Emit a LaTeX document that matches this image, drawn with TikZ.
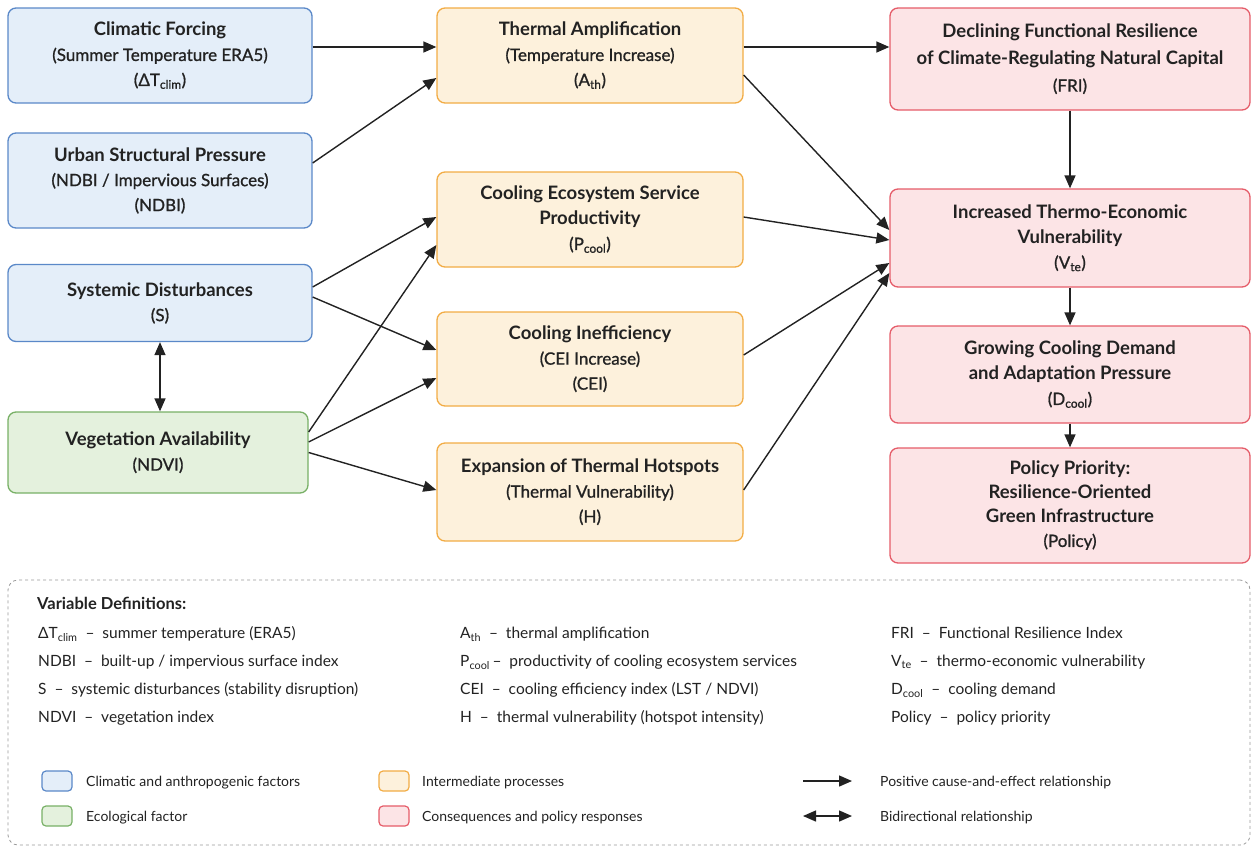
\documentclass[tikz,border=0pt]{standalone}
\usepackage{fontspec}
\setmainfont{Lato}
\newfontfamily\medfont{Lato}[FakeBold=1]
\usetikzlibrary{arrows.meta}
\definecolor{txt}{HTML}{222222}
\definecolor{bluefill}{HTML}{E4EEF9}
\definecolor{blueline}{HTML}{5A88C8}
\definecolor{orgfill}{HTML}{FDF1DC}
\definecolor{orgline}{HTML}{F2AC45}
\definecolor{redfill}{HTML}{FCE4E6}
\definecolor{redline}{HTML}{E55C69}
\definecolor{grnfill}{HTML}{E4F1DD}
\definecolor{grnline}{HTML}{78B066}
\newcommand{\ttl}[1]{{\rmfamily\bfseries\fontsize{18.5}{25}\selectfont #1}}
\newcommand{\defn}[4]{
\node[deftxt] (#1) at (#2,#3) {#4};}
\newcommand{\swatch}[5]{
\node[swbox,draw=#4,fill=#5] (#1) at (#2,#3) {};}

\begin{document}
\begin{tikzpicture}[x=1pt,y=-1pt,
  box/.style={draw, rounded corners=8pt, line width=1.3pt, align=center,
    inner sep=0pt, text=txt, font=\medfont\fontsize{17}{25}\selectfont},
  factor/.style={box, draw=blueline, fill=bluefill},
  ecol/.style={box, draw=grnline, fill=grnfill},
  proc/.style={box, draw=orgline, fill=orgfill},
  outc/.style={box, draw=redline, fill=redfill},
  arr/.style={-{Triangle[length=13pt,width=11pt]}, line width=1.4pt, txt},
  biarr/.style={{Triangle[length=13pt,width=11pt]}-{Triangle[length=13pt,width=11pt]}, line width=1.4pt, txt},
  deftxt/.style={anchor=base west, inner sep=0pt, text=txt, font=\fontsize{15.5}{18}\selectfont},
  legtxt/.style={deftxt, font=\fontsize{14}{16}\selectfont},
  swbox/.style={draw, rounded corners=4pt, line width=1.2pt, minimum width=30pt, minimum height=20pt, inner sep=0pt}]
\useasboundingbox (0,0) rectangle (1253,847);

% left column
\node[factor, minimum width=304pt, minimum height=95pt] (clim) at (160,55.5)
  {\ttl{Climatic Forcing}\\(Summer Temperature ERA5)\\(ΔT\textsubscript{clim})};
\node[factor, minimum width=304pt, minimum height=95pt] (urban) at (160,180.5)
  {\ttl{Urban Structural Pressure}\\(NDBI / Impervious Surfaces)\\(NDBI)};
\node[factor, minimum width=304pt, minimum height=77pt] (sys) at (160,303)
  {\ttl{Systemic Disturbances}\\(S)};
\node[ecol, minimum width=300pt, minimum height=81pt] (veg) at (158,452.5)
  {\ttl{Vegetation Availability}\\(NDVI)};

% middle column
\node[proc, minimum width=306pt, minimum height=95pt] (therm) at (590,55.5)
  {\ttl{Thermal Amplification}\\(Temperature Increase)\\(A\textsubscript{th})};
\node[proc, minimum width=306pt, minimum height=95pt] (pcool) at (590,219.5)
  {\ttl{Cooling Ecosystem Service}\\\ttl{Productivity}\\(P\textsubscript{cool})};
\node[proc, minimum width=306pt, minimum height=94pt] (cei) at (590,359)
  {\ttl{Cooling Inefficiency}\\(CEI Increase)\\(CEI)};
\node[proc, minimum width=306pt, minimum height=98pt] (hot) at (590,492)
  {\ttl{Expansion of Thermal Hotspots}\\(Thermal Vulnerability)\\(H)};

% right column
\node[outc, minimum width=360pt, minimum height=102pt, font=\medfont\fontsize{17}{27}\selectfont] (fri) at (1070,59)
  {\ttl{Declining Functional Resilience}\\\ttl{of Climate-Regulating Natural Capital}\\(FRI)};
\node[outc, minimum width=360pt, minimum height=98pt] (vte) at (1070,238)
  {\ttl{Increased Thermo-Economic}\\\ttl{Vulnerability}\\(V\textsubscript{te})};
\node[outc, minimum width=360pt, minimum height=97pt] (dcool) at (1070,374.5)
  {\ttl{Growing Cooling Demand}\\\ttl{and Adaptation Pressure}\\(D\textsubscript{cool})};
\node[outc, minimum width=360pt, minimum height=115pt, font=\medfont\fontsize{17}{24}\selectfont] (pol) at (1070,505.5)
  {\ttl{Policy Priority:}\\\ttl{Resilience-Oriented}\\\ttl{Green Infrastructure}\\(Policy)};

% connectors
\draw[arr] ([yshift=8.5pt]clim.east) -- ([yshift=8.5pt]therm.west);
\draw[arr] ([yshift=17.5pt]urban.east) -- ([yshift=-22.5pt]therm.west);
\draw[arr] ([yshift=16pt]sys.east) -- ([yshift=2.5pt]pcool.west);
\draw[arr] ([yshift=6pt]sys.east) -- ([yshift=9pt]cei.west);
\draw[arr] ([yshift=20.5pt]veg.east) -- ([yshift=-25.5pt]pcool.west);
\draw[arr] ([yshift=10.5pt]veg.east) -- ([yshift=-19pt]cei.west);
\draw[arr] (veg.east) -- ([yshift=2pt]hot.west);
\draw[biarr] (sys.south) -- (sys.south |- veg.north);
\draw[arr] ([yshift=8.5pt]therm.east) -- ([yshift=12pt]fri.west);
\draw[arr] ([yshift=-19.5pt]therm.east) -- ([yshift=8pt]vte.west);
\draw[arr] ([yshift=2.5pt]pcool.east) -- ([yshift=-2pt]vte.west);
\draw[arr] ([yshift=4pt]cei.east) -- ([yshift=-25pt]vte.west);
\draw[arr] ([yshift=2pt]hot.east) -- ([yshift=-35pt]vte.west);
\draw[arr] (fri.south) -- (vte.north);
\draw[arr] (vte.south) -- (dcool.north);
\draw[arr] (dcool.south) -- (pol.north);

% legend
\node[draw=gray!80, dashed, rounded corners=10pt, line width=0.8pt,
  minimum width=1242pt, minimum height=265pt, inner sep=0pt] (legend) at (629,712.5) {};
\node[deftxt, font=\fontsize{16.5}{18}\selectfont\bfseries] (vdef) at (37,609) {Variable Definitions:};
\defn{d1}{38}{638}{ΔT\textsubscript{clim}\ \ –\ \ summer temperature (ERA5)}
\defn{d2}{38}{666}{NDBI\ \ –\ \ built-up / impervious surface index}
\defn{d3}{38}{694}{S\ \ –\ \ systemic disturbances (stability disruption)}
\defn{d4}{38}{722}{NDVI\ \ –\ \ vegetation index}
\defn{d5}{460}{638}{A\textsubscript{th}\ \ –\ \ thermal amplification}
\defn{d6}{460}{666}{P\textsubscript{cool}\,–\ \ productivity of cooling ecosystem services}
\defn{d7}{460}{694}{CEI\ \ –\ \ cooling efficiency index (LST / NDVI)}
\defn{d8}{460}{722}{H\ \ –\ \ thermal vulnerability (hotspot intensity)}
\defn{d9}{891}{638}{FRI\ \ –\ \ Functional Resilience Index}
\defn{d10}{891}{666}{V\textsubscript{te}\ \ –\ \ thermo-economic vulnerability}
\defn{d11}{891}{694}{D\textsubscript{cool}\ \ –\ \ cooling demand}
\defn{d12}{891}{722}{Policy\ \ –\ \ policy priority}

\swatch{s1}{57}{781}{blueline}{bluefill}
\swatch{s2}{57}{816}{grnline}{grnfill}
\swatch{s3}{394}{781}{orgline}{orgfill}
\swatch{s4}{394}{816}{redline}{redfill}
\node[legtxt] (l1) at (86,786) {Climatic and anthropogenic factors};
\node[legtxt] (l2) at (86,821) {Ecological factor};
\node[legtxt] (l3) at (422,786) {Intermediate processes};
\node[legtxt] (l4) at (422,821) {Consequences and policy responses};
\coordinate (pa1) at (803,781);
\coordinate (pa2) at (852,781);
\coordinate (pb1) at (803,816);
\coordinate (pb2) at (852,816);
\draw[arr] (pa1) -- (pa2);
\draw[biarr] (pb1) -- (pb2);
\node[legtxt] (l5) at (880,786) {Positive cause-and-effect relationship};
\node[legtxt] (l6) at (880,821) {Bidirectional relationship};
\end{tikzpicture}
\end{document}
